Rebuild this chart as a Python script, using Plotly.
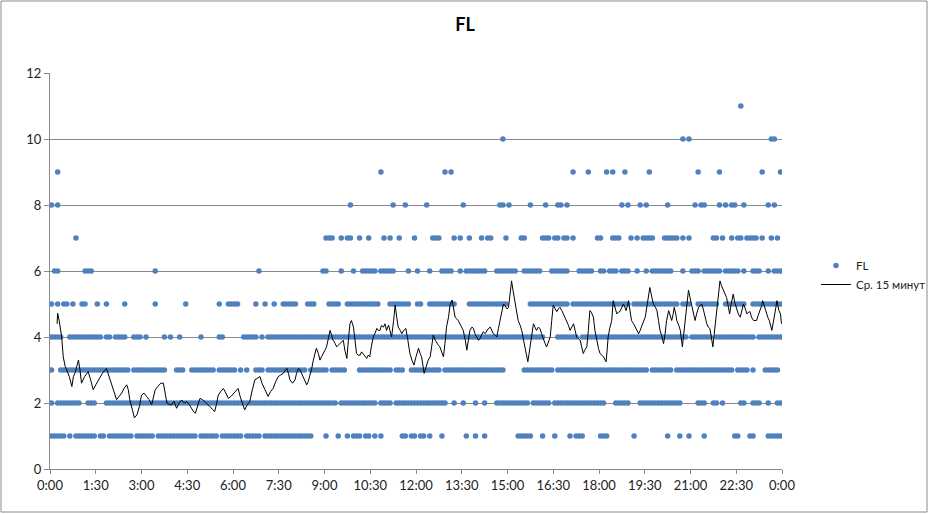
import plotly.graph_objects as go

# ---------------- DATA ----------------
# Dots per FL level.  Each level: 24 hourly groups, each group 10 slots of 6 minutes
# ('o' = a point is visible in that slot, '.' = none).
level_1 = ("ooooo.o.oo ooooo.oo.o ooooooo.oo oooo.ooooo oooooooo.o ooooo.oooo ooo.ooooo. oooooooooo "
           "oooooo.... o...o..o.o oo.oo.o.o. .....oo.oo .oo.o...o. ......o..o ..o....... ...ooooo.. "
           ".o...o.... o.ooo..... ooo....... .o........ ..o...o..o ....o..... ....oo...o o....ooooo")
level_2 = ("o.oooooooo ..ooo...oo oooooooooo oooooooooo oooooooooo oooooooooo oooooooooo oooooooooo "
           "oooooooooo oooo.ooooo ooooooo.oo oo.ooooooo oooooooooo ..o..o...o ..o...oooo ooooooo.oo "
           "oooo.ooooo oooooooooo oo...ooooo ...ooooooo ooooooo... ..ooo..oo. o.....oo.. ooo..o..oo")
level_3 = ("o..ooooooo oooooooooo oooooo.ooo oooooooo.. .ooo..oooo oooo.ooooo o.o.o..ooo .ooooooooo "
           "oooo.ooooo o.ooooo... .ooooooooo oo.ooo..oo oooooooo.o oooooooooo ooooooooo. .....ooooo "
           "ooooo.oooo oooooooooo oooooooooo oooooo.ooo oooo.ooooo oooooooooo oooo.oooo. o...ooooo.")
level_4 = ("oooo..oooo ooooooo.oo .oooo..ooo .o.....o.o ..o......o .....oo... ...ooooo.o .ooooooooo "
           "oooooooooo oooooooooo oooooooooo oooooooooo oooooooooo oooooooooo oooooooooo oooooooooo "
           "oo....oooo ooo.oooooo oooooooooo oooooooooo ooooooooo. ooooooo.oo oooooooooo o.oooooooo")
level_5 = ("o.o.oo.o.. oo...o..o. ....o..... ....o..... ....o..... .....o..oo oo.....o.. o..o..oooo "
           "o...ooo... .oooo..ooo oooooooo.. .ooooooo.. oo..oooooo ooo....ooo oooooooooo .......ooo "
           "oooooooooo .ooooooooo oooooooooo .ooooooooo oooooo.ooo ..ooooooo. .ooooooo.. oooooooooo")
level_6 = (".oo....... .ooo...... .......... ....o..... .......... .......... ........o. .......... "
           ".........o o....o...o ..ooooo.oo ooo....o.. o...o...oo oo..o.oooo ooo...oooo ooo..ooooo "
           "o...oooooo ...ooooo.. oo.ooo.ooo ..o..o.ooo oooo...o.. ooo.oooooo .ooooo.o.. ooo..o.ooo")
level_7 = ("........o. .......... .......... .......... .......... .......... .......... .......... "
           ".......... ooo..o.oo. .o..o....o .o..o....o .....ooo.. ..o.o..o.. .o.oo....o ....oo.... "
           ".ooo.oo.oo .o.......o o...ooo... o.o.oooo.. .ooooo.o.o .......oo. o..o.oo.oo oo.o..o.o.")
level_8 = ("o.o....... .......... .......... .......... .......... .......... .......... .......... "
           ".......... ........o. .......... ..o...o... ...o...... .....o.... .......oo. o......o.. "
           "..o...oo.o .......... .......o.o ...o.o.... ..o....... .o.oo....o .o.oo..o.. .....o.o..")
level_9 = ("..o....... .......... .......... .......... .......... .......... .......... .......... "
           ".......... .......... ........o. .......... .........o .o........ .......... .......... "
           ".......... .o....o... ..o.o...o. ......o... .......... ..o......o .......... ...o.....o")
level_10 = (".......... .......... .......... .......... .......... .......... .......... .......... "
            ".......... .......... .......... .......... .......... .......... ........o. .......... "
            ".......... .......... .......... .......... .......o.o .......... .......... ......oo..")
level_11 = (".......... .......... .......... .......... .......... .......... .......... .......... "
            ".......... .......... .......... .......... .......... .......... .......... .......... "
            ".......... .......... .......... .......... .......... .......... ......o... ..........")

levels = [1, 2, 3, 4, 5, 6, 7, 8, 9, 10, 11]
level_maps = [level_1, level_2, level_3, level_4, level_5, level_6,
              level_7, level_8, level_9, level_10, level_11]

# 15-minute moving average: (minute of day, value)
avg_points = [
    (14, 4.4), (15, 4.72), (18, 4.5), (21, 4.1), (23, 4.0), (26, 3.4), (30, 3.1), (33, 3.0),
    (38, 2.8), (43, 2.5), (46, 2.8), (49, 2.9), (53, 3.1), (56, 3.3), (59, 3.0), (62, 2.6),
    (68, 2.8), (75, 2.95), (80, 2.7), (85, 2.4), (90, 2.55), (95, 2.7), (103, 2.9), (111, 3.05),
    (116, 2.8), (121, 2.6), (126, 2.35), (131, 2.1), (136, 2.2), (141, 2.3), (146, 2.45),
    (151, 2.55), (154, 2.4), (157, 2.1), (162, 1.8), (166, 1.55), (171, 1.64), (176, 1.9),
    (180, 2.24), (185, 2.3), (190, 2.2), (195, 2.1), (200, 1.95), (204, 2.2), (207, 2.4),
    (212, 2.5), (218, 2.6), (223, 2.6), (226, 2.3), (230, 2.0), (236, 1.95),
    (239, 1.94), (244, 2.05), (249, 1.84), (254, 2.0), (259, 2.09), (264, 2.0), (269, 2.04),
    (274, 1.95), (278, 1.84), (282, 1.75), (286, 1.69), (290, 1.9), (295, 2.14), (300, 2.1),
    (305, 2.04), (310, 1.95), (315, 1.89), (320, 1.8), (324, 1.74), (328, 2.0), (331, 2.24),
    (336, 2.35), (341, 2.44), (346, 2.3), (351, 2.14), (356, 2.2), (361, 2.29), (366, 2.35),
    (370, 2.44), (374, 2.2), (377, 2.04), (380, 1.9), (383, 1.79), (388, 1.95), (393, 2.04),
    (398, 2.4), (403, 2.7), (408, 2.75), (413, 2.8), (417, 2.6), (420, 2.5), (425, 2.35),
    (429, 2.2), (434, 2.35), (439, 2.44), (444, 2.65), (449, 2.8), (454, 2.85), (459, 2.9),
    (463, 3.0), (466, 3.05), (469, 2.9), (472, 2.7), (477, 2.6), (482, 2.7),
    (485, 2.9), (489, 3.05), (492, 3.0), (495, 2.9), (498, 2.8), (502, 2.65), (505, 2.55),
    (508, 2.65), (511, 2.8), (515, 3.05), (518, 3.3), (521, 3.5), (524, 3.66), (528, 3.5),
    (531, 3.3), (534, 3.4), (538, 3.5), (541, 3.6), (544, 3.7), (548, 3.95), (551, 4.2),
    (554, 4.05), (557, 3.9), (561, 3.8), (564, 3.7), (567, 3.75), (570, 3.8), (574, 3.85),
    (577, 3.9), (580, 3.6), (584, 3.35), (587, 3.9), (590, 4.4), (593, 4.5), (597, 4.3),
    (600, 3.9), (603, 3.5), (606, 3.45), (610, 3.45), (613, 3.55), (616, 3.5), (620, 3.4),
    (623, 3.35), (626, 3.45), (629, 3.4), (632, 3.7), (636, 4.0), (639, 4.1), (643, 4.26),
    (646, 4.2), (649, 4.2), (652, 4.35), (656, 4.3), (659, 4.4), (662, 4.2), (666, 4.36),
    (669, 4.2), (672, 4.0), (676, 4.5), (679, 4.97), (682, 4.6), (685, 4.3), (689, 4.2),
    (692, 4.1), (696, 4.2), (700, 4.26), (704, 3.9), (708, 3.5), (712, 3.3), (716, 3.15),
    (720, 3.4), (723, 3.6), (725, 3.66), (728, 3.5), (731, 3.4), (736, 2.9), (741, 3.2),
    (744, 3.3), (748, 3.4), (751, 3.7), (754, 4.06), (758, 3.9), (761, 3.8), (764, 3.75),
    (767, 3.7), (770, 3.55), (774, 3.4), (777, 3.8), (780, 4.3), (784, 4.6), (787, 4.97),
    (791, 5.12), (794, 4.85), (797, 4.6), (800, 4.55), (803, 4.5), (808, 4.35), (813, 4.2),
    (817, 3.9), (820, 3.6), (823, 3.9), (826, 4.2), (830, 4.3), (833, 4.26), (836, 4.1),
    (839, 4.0), (843, 3.9), (846, 3.96), (849, 4.05), (852, 4.16), (856, 4.1), (859, 4.2),
    (862, 4.25), (866, 4.3), (869, 4.2), (872, 4.1), (876, 4.05), (879, 4.0), (882, 4.25),
    (885, 4.5), (889, 4.8), (892, 5.0), (895, 4.95), (899, 4.85), (902, 4.9), (905, 5.3),
    (908, 5.7), (911, 5.4), (915, 5.0), (918, 4.8), (921, 4.5), (925, 4.35), (928, 4.2),
    (931, 3.95), (934, 3.7), (937, 3.5), (940, 3.25), (942, 3.45), (944, 3.7), (948, 4.1),
    (951, 4.4), (954, 4.3), (957, 4.2), (961, 4.3), (964, 4.25), (967, 4.1), (971, 3.9),
    (974, 3.8), (977, 3.7), (981, 3.85), (984, 4.0), (987, 4.5), (990, 4.97), (994, 4.85),
    (997, 4.77), (1000, 4.85), (1003, 4.9), (1007, 4.8), (1010, 4.7), (1013, 4.6), (1016, 4.5),
    (1020, 4.35), (1023, 4.2), (1026, 4.3), (1030, 4.4), (1033, 4.2), (1036, 4.0), (1039, 3.95),
    (1043, 3.9), (1046, 3.7), (1049, 3.5), (1052, 3.6), (1056, 3.7), (1059, 4.2), (1062, 4.8),
    (1065, 4.75), (1069, 4.6), (1072, 4.2), (1076, 3.8), (1079, 3.65), (1082, 3.5), (1085, 3.45),
    (1089, 3.4), (1092, 3.3), (1094, 3.25), (1096, 3.6), (1098, 4.0), (1101, 4.25), (1105, 4.5),
    (1108, 5.1), (1111, 4.9), (1115, 4.7), (1118, 4.75), (1121, 4.77), (1125, 4.9), (1128, 5.0),
    (1131, 4.9), (1133, 4.8), (1136, 4.95), (1138, 5.1), (1141, 4.8), (1144, 4.5), (1148, 4.4),
    (1151, 4.3), (1154, 4.2), (1158, 4.1), (1161, 4.2), (1164, 4.3), (1167, 4.45), (1171, 4.6),
    (1175, 5.0), (1178, 5.3), (1180, 5.5), (1184, 5.2), (1187, 5.0), (1191, 4.9), (1194, 4.8),
    (1197, 4.5), (1200, 4.2), (1204, 4.0), (1207, 3.8), (1210, 4.1), (1213, 4.5), (1217, 4.8),
    (1220, 4.6), (1223, 4.5), (1226, 4.7), (1228, 4.9), (1231, 4.7), (1233, 4.5), (1237, 4.35),
    (1240, 4.2), (1244, 3.7), (1247, 4.1), (1249, 4.5), (1253, 5.0), (1256, 5.42), (1259, 5.2),
    (1262, 5.0), (1266, 4.75), (1269, 4.5), (1272, 4.7), (1276, 4.9), (1279, 4.95), (1282, 5.0),
    (1285, 4.85), (1287, 4.7), (1290, 4.55), (1292, 4.4), (1295, 4.3), (1298, 4.26), (1301, 4.0),
    (1304, 3.7), (1306, 4.0), (1308, 4.3), (1311, 4.65), (1314, 5.0), (1316, 5.35), (1318, 5.7),
    (1321, 5.55), (1325, 5.4), (1328, 5.3), (1331, 5.2), (1334, 4.95), (1337, 4.7), (1340, 5.0),
    (1344, 5.3), (1347, 5.05), (1351, 4.8), (1354, 4.7), (1358, 4.6), (1361, 4.8), (1364, 5.0),
    (1368, 4.85), (1371, 4.7), (1374, 4.75), (1377, 4.77), (1380, 4.6), (1384, 4.5), (1387, 4.5),
    (1390, 4.5), (1393, 4.65), (1397, 4.8), (1400, 4.95), (1402, 5.1), (1406, 4.9), (1409, 4.7),
    (1412, 4.6), (1415, 4.5), (1418, 4.35), (1420, 4.2), (1423, 4.45), (1425, 4.7), (1428, 4.9),
    (1430, 5.1), (1432, 4.95), (1434, 4.8), (1437, 4.7), (1439, 4.4),
]

tick_minutes = [0, 90, 180, 270, 360, 450, 540, 630, 720, 810, 900, 990, 1080, 1170, 1260, 1350, 1440]
tick_labels = ["0:00", "1:30", "3:00", "4:30", "6:00", "7:30", "9:00", "10:30", "12:00",
               "13:30", "15:00", "16:30", "18:00", "19:30", "21:00", "22:30", "0:00"]

# ---------------- BUILD ----------------
dot_x, dot_y = [], []
for lvl, mp in zip(levels, level_maps):
    for h, grp in enumerate(mp.split()):
        for i, ch in enumerate(grp):
            if ch == "o":
                dot_x.append(60 * h + 6 * i + 3)
                dot_y.append(lvl)

avg_t = [p[0] for p in avg_points]
avg_v = [p[1] for p in avg_points]

FONT = "Lato, 'Open Sans', sans-serif"
GRID = "#8a8a8a"

fig = go.Figure()
fig.add_trace(go.Scatter(x=dot_x, y=dot_y, mode="markers", name="FL",
                         marker=dict(size=5.5, color="#4F81BD", line=dict(width=0))))
fig.add_trace(go.Scatter(x=avg_t, y=avg_v, mode="lines", name="Ср. 15 минут",
                         line=dict(color="black", width=1)))

W, H = 930, 514
L, R, T, B = 50, 148, 73, 45
pw, ph = W - L - R, H - T - B

fig.update_layout(
    width=W, height=H,
    margin=dict(l=L, r=R, t=T, b=B, autoexpand=False),
    paper_bgcolor="white", plot_bgcolor="white",
    font=dict(family=FONT, size=13, color="#222222"),
    title=dict(text="<b>FL</b>", x=0.5, xref="container", xanchor="center",
               y=1 - 25 / H, yref="container", yanchor="middle",
               font=dict(family=FONT, size=18, color="black")),
    showlegend=True,
    legend=dict(x=(816 - L) / pw, xanchor="left", y=(469 - 275) / ph, yanchor="middle",
                font=dict(family=FONT, size=11.5, color="#222222"),
                bgcolor="rgba(0,0,0,0)", itemwidth=30),
    xaxis=dict(range=[0, 1440], tickmode="array", tickvals=tick_minutes, ticktext=tick_labels,
               showgrid=False, zeroline=False, showline=True, linecolor=GRID, linewidth=1,
               ticks="outside", ticklen=4, tickcolor=GRID, tickfont=dict(size=13, color="#222222")),
    yaxis=dict(range=[0, 12], dtick=2, showgrid=True, gridcolor=GRID, gridwidth=1,
               zeroline=False, showline=True, linecolor=GRID, linewidth=1,
               ticks="outside", ticklen=5, tickcolor=GRID, tickfont=dict(size=13, color="#222222")),
    shapes=[dict(type="rect", xref="paper", yref="paper",
                 x0=(1 - L) / pw, x1=(927 - L) / pw, y0=(469 - 512) / ph, y1=(469 - 1) / ph,
                 line=dict(color="#8c8c8c", width=1), fillcolor="rgba(0,0,0,0)", layer="below")],
)

fig.write_html("out.html")
